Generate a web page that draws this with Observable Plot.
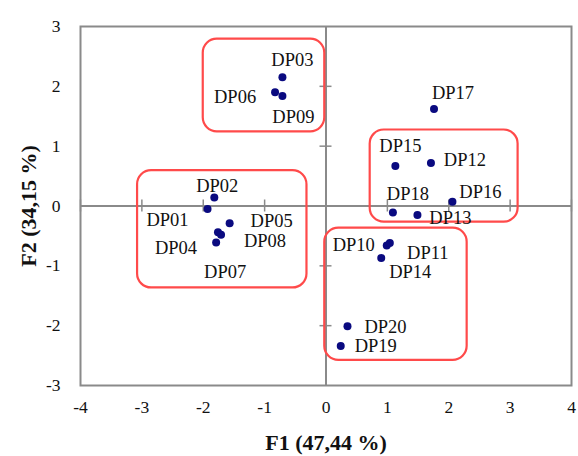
<!DOCTYPE html>
<html>
<head>
<meta charset="utf-8">
<script src="https://cdn.jsdelivr.net/npm/d3@7"></script>
<script src="https://cdn.jsdelivr.net/npm/@observablehq/plot@0.6"></script>
<style>
  html, body { margin: 0; padding: 0; background: #fff; }
  svg { display: block; }
</style>
</head>
<body>
<div id="chart"></div>
<script>
// Data
const names = ["DP01","DP02","DP03","DP04","DP05","DP06","DP07","DP08","DP09","DP10",
               "DP11","DP12","DP13","DP14","DP15","DP16","DP17","DP18","DP19","DP20"];
const f1 = [-1.93,-1.82,-0.71,-1.76,-1.57,-0.83,-1.79,-1.71,-0.71,0.99,
             1.04, 1.71, 1.49, 0.90, 1.13, 2.06, 1.76, 1.09, 0.24, 0.35];
const f2 = [-0.05, 0.14, 2.15,-0.44,-0.29, 1.90,-0.61,-0.48, 1.84,-0.66,
            -0.62, 0.72,-0.15,-0.87, 0.67, 0.07, 1.62,-0.11,-2.34,-2.01];

// Cluster boxes (data units)
const boxX1 = [-2.00, -3.07, 0.72, -0.02];
const boxX2 = [-0.02, -0.31, 3.13, 2.30];
const boxY1 = [ 2.79,  0.59, 1.27, -0.37];
const boxY2 = [ 1.24, -1.37,-0.27, -2.58];

const xTicks = [-4,-3,-2,-1,0,1,2,3,4];
const yTicks = [-3,-2,-1,0,1,2,3];
const xTitle = "F1 (47,44 %)";
const yTitle = "F2 (34,15 %)";

// Label placement (pixels relative to each dot)
const labelDx = [-40, 3, 10,-42, 42,-40, 9, 44, 11,-33, 38, 34, 33, 29, 5, 28, 19, 15, 35, 38];
const labelDy = [ 11,-12,-17, 16, -2,  5, 30, 6, 21,  0, 10, -3,  3, 14,-20,-10,-16,-19, 0, 1];

const points = names.map((n, i) => ({name: n, x: f1[i], y: f2[i]}));
const boxes = boxX1.map((_, i) => ({x1: boxX1[i], x2: boxX2[i], y1: boxY1[i], y2: boxY2[i]}));

const serif = "'Liberation Serif', 'Times New Roman', serif";
const gray = "#8a8a8a";
const fmt = d => String(d);

const labelMarks = points.map((p, i) =>
  Plot.text([p], {x: "x", y: "y", text: "name", dx: labelDx[i], dy: labelDy[i],
    fontSize: 18.5, fill: "#111", fontFamily: serif})
);

const chart = Plot.plot({
  width: 578,
  height: 456,
  marginLeft: 80,
  marginRight: 7,
  marginTop: 26,
  marginBottom: 71,
  style: {fontFamily: serif, background: "#fff"},
  x: {domain: [-4, 4]},
  y: {domain: [-3, 3]},
  marks: [
    Plot.ruleX([0], {stroke: gray, strokeWidth: 2}),
    Plot.ruleY([0], {stroke: gray, strokeWidth: 2}),
    Plot.ruleY(yTicks.filter(d => d !== 0 && Math.abs(d) !== 3), {y: d => d, x1: 0, x2: 0, insetLeft: -6, insetRight: -6, stroke: gray, strokeWidth: 1.5}),
    Plot.ruleX(xTicks.filter(d => d !== 0), {x: d => d, y1: 0, y2: 0, insetTop: -6, insetBottom: -6, stroke: gray, strokeWidth: 1.5}),
    Plot.frame({stroke: gray, strokeWidth: 2}),
    Plot.rect(boxes, {x1: "x1", x2: "x2", y1: "y1", y2: "y2", rx: 14, fill: "none", stroke: "#ff4a4a", strokeWidth: 2.2}),
    Plot.dot(points, {x: "x", y: "y", r: 4, fill: "#0a0a80", stroke: "none"}),
    ...labelMarks,
    Plot.axisX(xTicks, {tickSize: 0, tickPadding: 15, fontSize: 17.5, fill: "#111", label: null, tickFormat: fmt}),
    Plot.axisY(yTicks, {tickSize: 0, tickPadding: 20, fontSize: 17.5, fill: "#111", label: null, tickFormat: fmt}),
    Plot.text([xTitle], {frameAnchor: "bottom", textAnchor: "middle", dy: 64, fontSize: 22, fontWeight: "bold", fill: "#111"}),
    Plot.text([yTitle], {frameAnchor: "left", textAnchor: "middle", dx: -52, rotate: -90, fontSize: 22, fontWeight: "bold", fill: "#111"})
  ]
});

document.getElementById("chart").appendChild(chart);
</script>
</body>
</html>
